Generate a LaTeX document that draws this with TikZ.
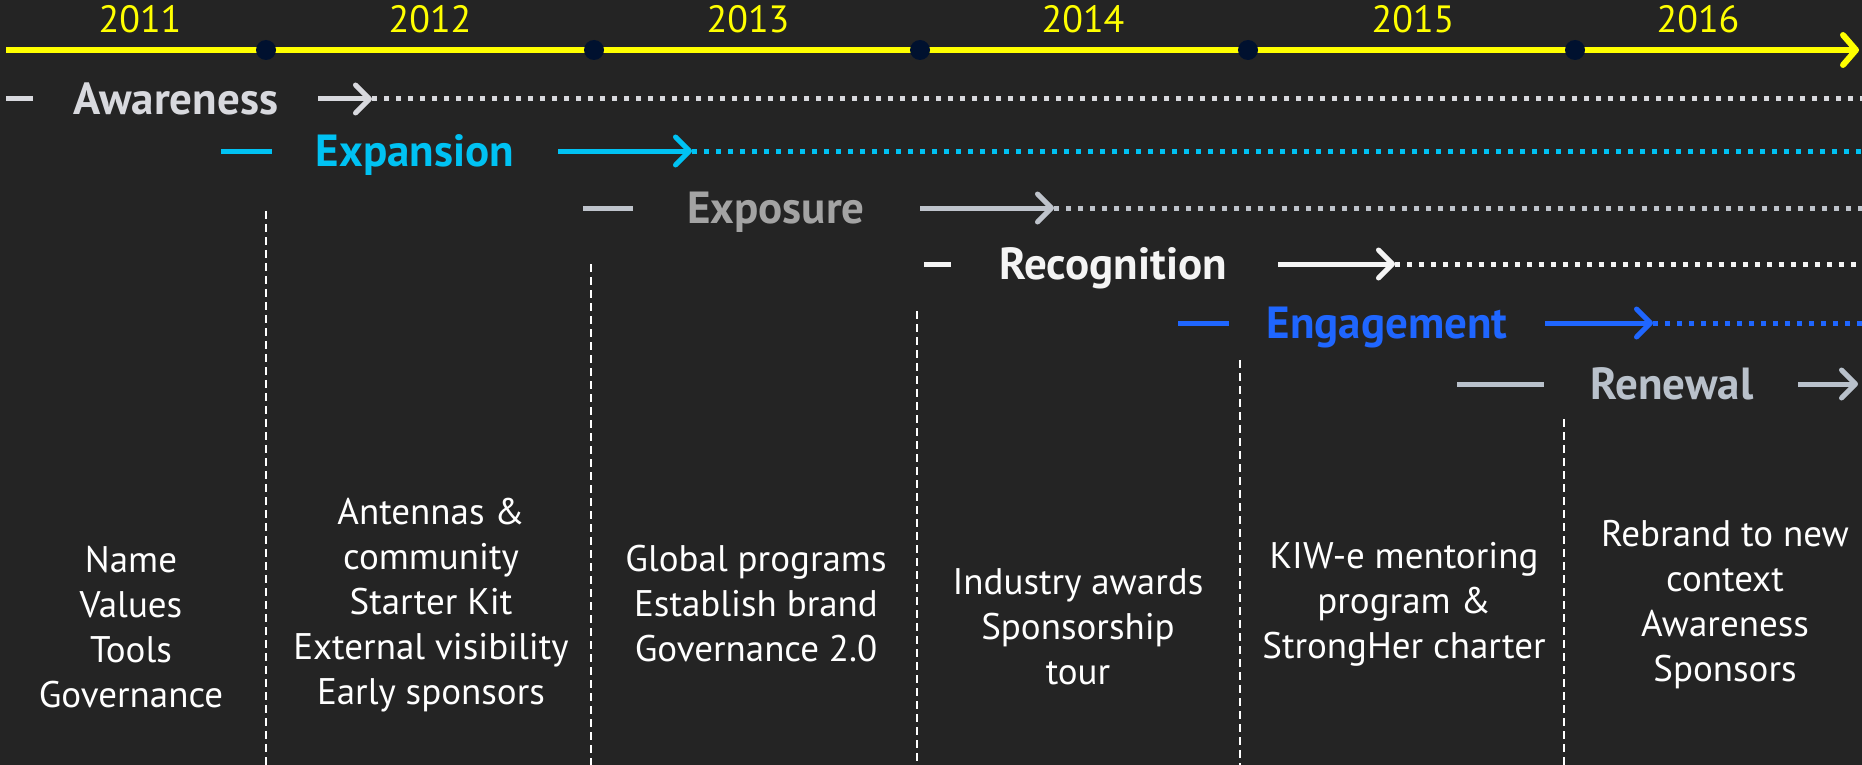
\documentclass[tikz,border=0pt]{standalone}
\usepackage{fontspec}
\setmainfont{PT Sans}
\usetikzlibrary{arrows.meta}

\definecolor{bgdark}{HTML}{242424}
\definecolor{axisyellow}{HTML}{FFFF00}
\definecolor{dotnavy}{HTML}{00112F}
\definecolor{awgrey}{HTML}{D8D9DE}
\definecolor{excyan}{HTML}{00C2F3}
\definecolor{exgrey}{HTML}{A3A3A3}
\definecolor{exline}{HTML}{BEC3CB}
\definecolor{recwhite}{HTML}{F4F4F4}
\definecolor{engblue}{HTML}{1F66FF}
\definecolor{rengrey}{HTML}{B9C1CB}

\tikzset{
  axisline/.style={axisyellow, line width=6pt,
    -{Straight Barb[round, length=13pt, width=30pt]}},
  yeardot/.style={circle, fill=dotnavy, minimum size=20pt, inner sep=0pt},
  yearlab/.style={font=\fontsize{38}{42}\selectfont, text=axisyellow, anchor=base},
  phase/.style={font=\fontsize{45}{52}\selectfont\bfseries, inner sep=0pt,
    text height=31pt, text depth=0pt},
  bar/.style={line width=5pt},
  pointer/.style={line width=5pt, -{Straight Barb[round, length=14pt, width=28pt]}},
  trail/.style={line width=5pt, dash pattern=on 5pt off 7pt},
  sep/.style={white, line width=1.5pt, dash pattern=on 8pt off 5pt},
  note/.style={font=\fontsize{37}{45}\selectfont, align=center, text=white}
}

\begin{document}
\begin{tikzpicture}[x=1pt, y=-1pt]
\path[use as bounding box, fill=bgdark] (0,0) rectangle (1862,765);

% time axis
\coordinate (t0) at (6,50);
\coordinate (t1) at (1859,50);
\draw[axisline] (t0) -- (t1);
\foreach \x/\n in {266/1, 594/2, 920/3, 1248/4, 1575/5}
    \node[yeardot] (d\n) at (\x,50) {};
\foreach \x/\yr in {140/2011, 430/2012, 748/2013, 1083/2014, 1413/2015, 1698/2016}
    \node[yearlab] (y\yr) at (\x,33) {\yr};

% year separators
\foreach \x/\top in {266/211, 591/264, 917/311, 1240/360, 1564/419}
    \draw[sep] (\x,\top) -- (\x,765);

% phases
\node[phase, text=awgrey] (aware) at (176,99) {Awareness};
\node[phase, text=excyan] (expand) at (415,151) {Expansion};
\node[phase, text=exgrey] (expose) at (776,208) {Exposure};
\node[phase, text=recwhite] (recog) at (1113,264) {Recognition};
\node[phase, text=engblue] (engage) at (1387,323) {Engagement};
\node[phase, text=rengrey] (renew) at (1672,384) {Renewal};

\foreach \n/\y/\a/\b/\c/\d/\col in {
    aware/99/6/33/318/372/awgrey,
    expand/151/221/272/558/692/excyan,
    expose/208/583/633/920/1054/exline,
    recog/264/924/951/1278/1395/recwhite,
    engage/323/1178/1229/1545/1653/engblue,
    renew/384/1457/1544/1798/1858/rengrey}{
  \coordinate (\n-a) at (\a,\y);
  \coordinate (\n-b) at (\b,\y);
  \coordinate (\n-c) at (\c,\y);
  \coordinate (\n-d) at (\d,\y);
  \coordinate (\n-e) at (1862,\y);
  \draw[bar, \col] (\n-a) -- (\n-b);
  \draw[pointer, \col] (\n-c) -- (\n-d);
}
\foreach \n/\col in {aware/awgrey, expand/excyan, expose/exline,
                     recog/recwhite, engage/engblue}
    \draw[trail, \col] (\n-d) -- (\n-e);

% what happened each year
\node[note] (c2011) at (131,627) {Name\\Values\\Tools\\Governance};
\node[note] (c2012) at (431,605) {Antennas \&\\community\\Starter Kit\\External visibility\\Early sponsors};
\node[note] (c2013) at (756,604) {Global programs\\Establish brand\\Governance 2.0};
\node[note] (c2014) at (1078,627) {Industry awards\\Sponsorship\\tour};
\node[note] (c2015) at (1404,604) {KIW-e mentoring\\program \&\\StrongHer charter};
\node[note] (c2016) at (1725,605) {Rebrand to new\\context\\Awareness\\Sponsors};
\end{tikzpicture}
\end{document}
